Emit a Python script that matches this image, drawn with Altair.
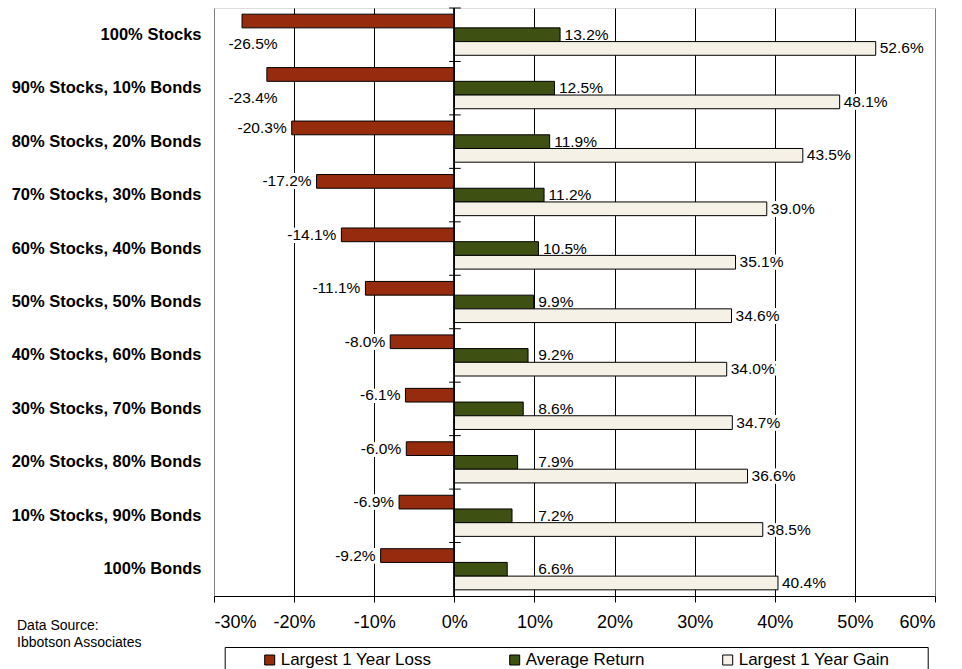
import altair as alt
import pandas as pd

categories = [
    "100% Stocks",
    "90% Stocks, 10% Bonds",
    "80% Stocks, 20% Bonds",
    "70% Stocks, 30% Bonds",
    "60% Stocks, 40% Bonds",
    "50% Stocks, 50% Bonds",
    "40% Stocks, 60% Bonds",
    "30% Stocks, 70% Bonds",
    "20% Stocks, 80% Bonds",
    "10% Stocks, 90% Bonds",
    "100% Bonds",
]
series_names = ["Largest 1 Year Loss", "Average Return", "Largest 1 Year Gain"]
loss = [-26.5, -23.4, -20.3, -17.2, -14.1, -11.1, -8.0, -6.1, -6.0, -6.9, -9.2]
avg = [13.2, 12.5, 11.9, 11.2, 10.5, 9.9, 9.2, 8.6, 7.9, 7.2, 6.6]
gain = [52.6, 48.1, 43.5, 39.0, 35.1, 34.6, 34.0, 34.7, 36.6, 38.5, 40.4]
x_ticks = [-0.3, -0.2, -0.1, 0.0, 0.1, 0.2, 0.3, 0.4, 0.5, 0.6]
colors = ["#962B0D", "#3F5013", "#F5F1E7"]
source_lines = ["Data Source:", "Ibbotson Associates"]

FONT = "Liberation Sans"
# non-breaking spaces closed by a zero-width space so Vega does not trim them
PAD_RIGHT = "\u00a0" * 7 + "\u200b"

rows = []
for s, vals in zip(series_names, [loss, avg, gain]):
    for i, (c, v) in enumerate(zip(categories, vals)):
        rows.append({"category": c, "series": s, "value": v / 100.0,
                     "label": f"{v:.1f}%", "idx": i})
df = pd.DataFrame(rows)
cat_df = pd.DataFrame({"category": categories})

x_scale = alt.Scale(domain=[-0.3, 0.6], nice=False, zero=False)
y_scale = alt.Scale(paddingInner=0, paddingOuter=0)
y_enc = alt.Y("category:N", sort=categories, scale=y_scale,
              axis=alt.Axis(title=None, domain=False, ticks=False,
                            labelFontSize=16.5, labelFontWeight="bold",
                            labelPadding=13, labelColor="black",
                            labelFont=FONT, labelLimit=400))
y_plain = alt.Y("category:N", sort=categories)

base = alt.Chart(df)

bars = base.mark_bar(stroke="black", strokeWidth=1).encode(
    x=alt.X("value:Q", scale=x_scale,
            axis=alt.Axis(title=None, values=x_ticks, format=".0%",
                          labelExpr="replace(datum.label, '\u2212', '-')",
                          labelFontSize=18, labelColor="black", labelFont=FONT,
                          labelPadding=11, tickSize=6, tickColor="black",
                          domainColor="black", grid=True,
                          gridColor={"condition": {"test": "datum.value <= -0.29 || datum.value >= 0.59",
                                                   "value": "#808080"},
                                     "value": "black"},
                          gridWidth=1)),
    y=y_enc,
    yOffset=alt.YOffset("series:N", sort=series_names,
                        scale=alt.Scale(paddingInner=0, paddingOuter=0.45)),
    color=alt.Color("series:N", sort=series_names,
                    scale=alt.Scale(domain=series_names, range=colors),
                    legend=alt.Legend(
                        orient="none", legendX=10.7, legendY=639,
                        direction="horizontal", gridAlign="none",
                        columnPadding=74, symbolType="square", symbolSize=100,
                        symbolStrokeColor="black", symbolStrokeWidth=1,
                        symbolOpacity=1,
                        labelFontSize=17, labelFont=FONT, labelColor="black",
                        labelOffset=2.5, labelLimit=400,
                        labelExpr="datum.label + (datum.value == 'Largest 1 Year Gain' ? '" + PAD_RIGHT + "' : '')",
                        padding=4.5, strokeColor="black", fillColor="white",
                        title="\u00a0\u200b", titleOrient="left", titlePadding=32,
                        titleFontSize=16.5)),
)

zero_line = alt.Chart(cat_df).mark_rule(color="black", strokeWidth=1).encode(
    x=alt.datum(0), y=alt.value(0), y2=alt.value(588)
)

zero_ticks = alt.Chart(cat_df).mark_rule(color="black", strokeWidth=1).encode(
    x=alt.datum(-0.0065), x2=alt.datum(0.008),
    y=alt.Y("category:N", sort=categories, bandPosition=0),
)

txt = dict(fontSize=15.5, font=FONT, baseline="middle")
halo = dict(stroke="white", strokeWidth=6, color="white", strokeJoin="miter")


def label_layers(src, mark_kw, x_enc):
    back = src.mark_text(**mark_kw, **txt, **halo).encode(x=x_enc, y=y_plain, text="label:N")
    front = src.mark_text(**mark_kw, **txt, fill="black").encode(x=x_enc, y=y_plain, text="label:N")
    return back, front


loss_src = base.transform_filter("datum.series == 'Largest 1 Year Loss' && datum.idx >= 2")
loss_top_src = base.transform_filter("datum.series == 'Largest 1 Year Loss' && datum.idx < 2")
avg_src = base.transform_filter("datum.series == 'Average Return'").transform_calculate(
    lx="max(datum.value, 0.099)")
gain_src = base.transform_filter("datum.series == 'Largest 1 Year Gain'")

lb, lf = label_layers(loss_src, dict(align="right", dx=-5, dy=-13.7), alt.X("value:Q"))
tb, tf = label_layers(loss_top_src, dict(align="left", dy=9.5), alt.datum(-0.282))
ab, af = label_layers(avg_src, dict(align="left", dx=4.5, dy=0), alt.X("lx:Q"))
gb, gf = label_layers(gain_src, dict(align="left", dx=4, dy=13.7), alt.X("value:Q"))

chart = alt.layer(
    lb, tb, ab, gb,
    bars, zero_line, zero_ticks,
    lf, tf, af, gf,
).properties(
    width=721, height=588,
    title=alt.TitleParams(source_lines, orient="bottom", anchor="start",
                          frame="group", dx=-197, dy=-59, fontSize=14,
                          fontWeight="normal", font=FONT, lineHeight=17,
                          color="black", align="left"),
    autosize=alt.AutoSizeParams(type="none"),
    padding={"left": 214, "top": 8, "right": 27, "bottom": 73},
).configure_view(stroke="#808080", strokeWidth=1).configure(font=FONT)

chart.save("out.html", embed_options={"renderer": "svg", "actions": False})
